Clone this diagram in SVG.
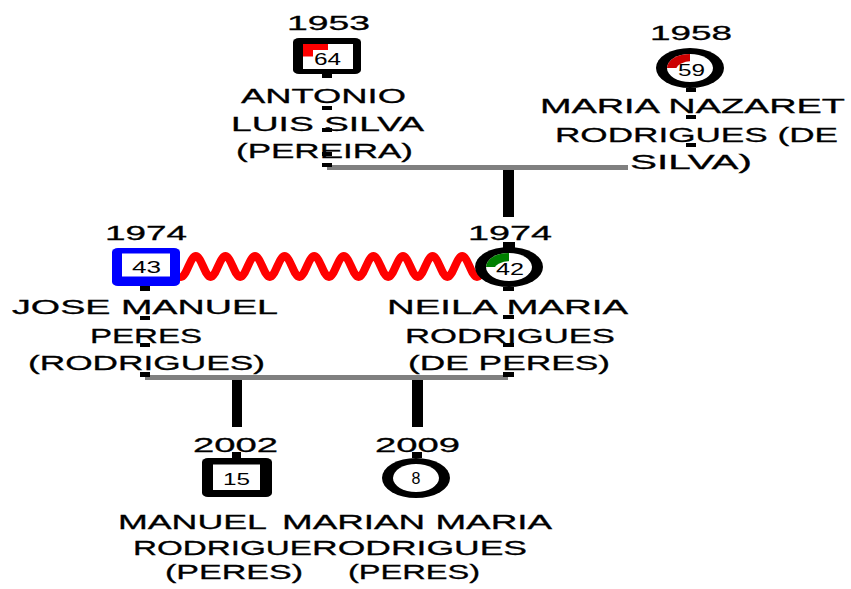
<svg xmlns="http://www.w3.org/2000/svg" width="851" height="589" viewBox="0 0 851 589">
<style>
  text { font-family: "Liberation Sans", Arial, sans-serif; fill: #000; }
  .nm { font-size: 21px; stroke: #000; stroke-width: 0.3; }
  .age { font-size: 16px; }
  .couple { stroke: #808080; stroke-width: 5; fill: none; }
  .partner { stroke: #ff0000; stroke-width: 8; fill: none; stroke-linecap: round; stroke-linejoin: round; }
  .ln { fill: #000; }
  .ring { fill: #000; }
  .hole { fill: #fff; }
</style>
<rect width="851" height="589" fill="#fff"/>

<g id="connectors">
  <!-- couple bars -->
  <line class="couple" x1="327" y1="167.5" x2="628" y2="167.5"/>
  <line class="couple" x1="145" y1="377.5" x2="508" y2="377.5"/>
  <!-- descent lines to children -->
  <rect class="ln" x="503" y="170" width="11" height="47"/>
  <rect class="ln" x="503" y="242" width="12" height="6"/>
  <rect class="ln" x="232" y="380" width="10" height="47"/>
  <rect class="ln" x="412" y="380" width="11" height="47"/>
  <rect class="ln" x="232" y="452" width="9" height="6"/>
  <rect class="ln" x="412" y="452" width="10" height="6"/>
  <!-- parent lines down to the couple bars, showing between name lines -->
  <rect class="ln" x="322" y="74" width="10" height="4"/>
  <rect class="ln" x="322" y="106" width="10" height="4"/>
  <rect class="ln" x="322" y="128" width="10" height="4"/>
  <rect class="ln" x="322" y="152" width="10" height="4"/>
  <rect class="ln" x="322" y="163" width="10" height="4"/>
  <rect class="ln" x="686" y="88" width="10" height="4"/>
  <rect class="ln" x="686" y="115" width="10" height="4"/>
  <rect class="ln" x="686" y="143" width="10" height="4"/>
  <rect class="ln" x="140" y="286" width="10" height="5"/>
  <rect class="ln" x="140" y="316" width="10" height="4"/>
  <rect class="ln" x="140" y="343" width="10" height="4"/>
  <rect class="ln" x="140" y="372" width="10" height="5"/>
  <rect class="ln" x="503" y="287" width="11" height="4"/>
  <rect class="ln" x="503" y="315" width="11" height="4"/>
  <rect class="ln" x="503" y="343" width="11" height="4"/>
  <rect class="ln" x="503" y="372" width="11" height="5"/>
  <!-- partner relation (wavy) -->
  <path class="partner" d="M181,277 C186.4,277 190.4,256 195.8,256 S205.2,277 210.6,277 S220,256 225.4,256 S234.8,277 240.2,277 S249.6,256 255,256 S264.4,277 269.8,277 S279.2,256 284.6,256 S294,277 299.4,277 S308.8,256 314.2,256 S323.6,277 329,277 S338.4,256 343.8,256 S353.2,277 358.6,277 S368,256 373.4,256 S382.8,277 388.2,277 S397.6,256 403,256 S412.4,277 417.8,277 S427.2,256 432.6,256 S442,277 447.4,277 S456.8,256 462.2,256 S471.6,277 477,277 S486.4,256 491.8,256"/>
</g>

<g id="antonio">
  <rect x="293" y="38" width="68" height="36" rx="6" ry="4" fill="#000"/>
  <rect x="303" y="44" width="50" height="25" fill="#fff"/>
  <rect x="303" y="44" width="25" height="12.5" fill="#ff0000"/>
  <rect x="313" y="50" width="30" height="19" fill="#fff"/>
  <text class="age" x="314" y="65" textLength="27" lengthAdjust="spacingAndGlyphs">64</text>
  <text class="nm" x="287" y="30" textLength="83" lengthAdjust="spacingAndGlyphs">1953</text>
  <text class="nm" x="241" y="103" textLength="165" lengthAdjust="spacingAndGlyphs">ANTONIO</text>
  <text class="nm" x="231" y="131" textLength="193" lengthAdjust="spacingAndGlyphs">LUIS SILVA</text>
  <text class="nm" x="236" y="158" textLength="177" lengthAdjust="spacingAndGlyphs">(PEREIRA)</text>
</g>

<g id="maria-nazaret">
  <ellipse class="ring" cx="690" cy="68" rx="34" ry="20"/>
  <ellipse class="hole" cx="690" cy="68" rx="23" ry="14"/>
  <path d="M690,68 L667,68 A23,14 0 0 1 690,54 Z" fill="#cc0000"/>
  <ellipse class="hole" cx="692" cy="70" rx="16" ry="9"/>
  <text class="age" x="678" y="76" textLength="27" lengthAdjust="spacingAndGlyphs">59</text>
  <text class="nm" x="650" y="40" textLength="82" lengthAdjust="spacingAndGlyphs">1958</text>
  <text class="nm" x="540" y="113" textLength="305" lengthAdjust="spacingAndGlyphs">MARIA NAZARET</text>
  <text class="nm" x="555" y="142" textLength="283" lengthAdjust="spacingAndGlyphs">RODRIGUES (DE</text>
  <text class="nm" x="630" y="169" textLength="122" lengthAdjust="spacingAndGlyphs">SILVA)</text>
</g>

<g id="jose">
  <rect x="112" y="248" width="68" height="38" rx="6" ry="4" fill="#0000ff"/>
  <rect x="122" y="253.5" width="48" height="23" fill="#fff"/>
  <text class="age" x="132" y="273" textLength="29" lengthAdjust="spacingAndGlyphs">43</text>
  <text class="nm" x="105" y="240" textLength="82" lengthAdjust="spacingAndGlyphs">1974</text>
  <text class="nm" x="12" y="314" textLength="266" lengthAdjust="spacingAndGlyphs">JOSE MANUEL</text>
  <text class="nm" x="90" y="343" textLength="112" lengthAdjust="spacingAndGlyphs">PERES</text>
  <text class="nm" x="28" y="370" textLength="237" lengthAdjust="spacingAndGlyphs">(RODRIGUES)</text>
</g>

<g id="neila">
  <ellipse class="ring" cx="509" cy="267" rx="34" ry="20"/>
  <ellipse class="hole" cx="509" cy="267" rx="23" ry="14"/>
  <path d="M509,267 L486,267 A23,14 0 0 1 509,253 Z" fill="#008000"/>
  <ellipse class="hole" cx="510" cy="270" rx="16" ry="9"/>
  <text class="age" x="496" y="275" textLength="28" lengthAdjust="spacingAndGlyphs">42</text>
  <text class="nm" x="468" y="240" textLength="84" lengthAdjust="spacingAndGlyphs">1974</text>
  <text class="nm" x="387" y="314" textLength="241" lengthAdjust="spacingAndGlyphs">NEILA MARIA</text>
  <text class="nm" x="405" y="343" textLength="210" lengthAdjust="spacingAndGlyphs">RODRIGUES</text>
  <text class="nm" x="408" y="370" textLength="202" lengthAdjust="spacingAndGlyphs">(DE PERES)</text>
</g>

<g id="manuel">
  <rect x="202" y="458" width="70" height="39" rx="6" ry="4" fill="#000"/>
  <rect x="213" y="464.5" width="47" height="25.5" fill="#fff"/>
  <text class="age" x="223" y="485" textLength="27" lengthAdjust="spacingAndGlyphs">15</text>
  <text class="nm" x="193" y="452" textLength="85" lengthAdjust="spacingAndGlyphs">2002</text>
  <text class="nm" x="118" y="529" textLength="149" lengthAdjust="spacingAndGlyphs">MANUEL</text>
  <text class="nm" x="133" y="555" textLength="179" lengthAdjust="spacingAndGlyphs">RODRIGUE</text>
  <text class="nm" x="165" y="579" textLength="138" lengthAdjust="spacingAndGlyphs">(PERES)</text>
</g>

<g id="sara">
  <ellipse class="ring" cx="416" cy="478" rx="34" ry="20"/>
  <ellipse class="hole" cx="416" cy="478" rx="23" ry="14"/>
  <text class="age" x="416" y="484" text-anchor="middle">8</text>
  <text class="nm" x="375" y="452" textLength="85" lengthAdjust="spacingAndGlyphs">2009</text>
  <text class="nm" x="282" y="529" textLength="270" lengthAdjust="spacingAndGlyphs">MARIAN MARIA</text>
  <text class="nm" x="312" y="555" textLength="215" lengthAdjust="spacingAndGlyphs">RODRIGUES</text>
  <text class="nm" x="348" y="579" textLength="132" lengthAdjust="spacingAndGlyphs">(PERES)</text>
</g>
</svg>
